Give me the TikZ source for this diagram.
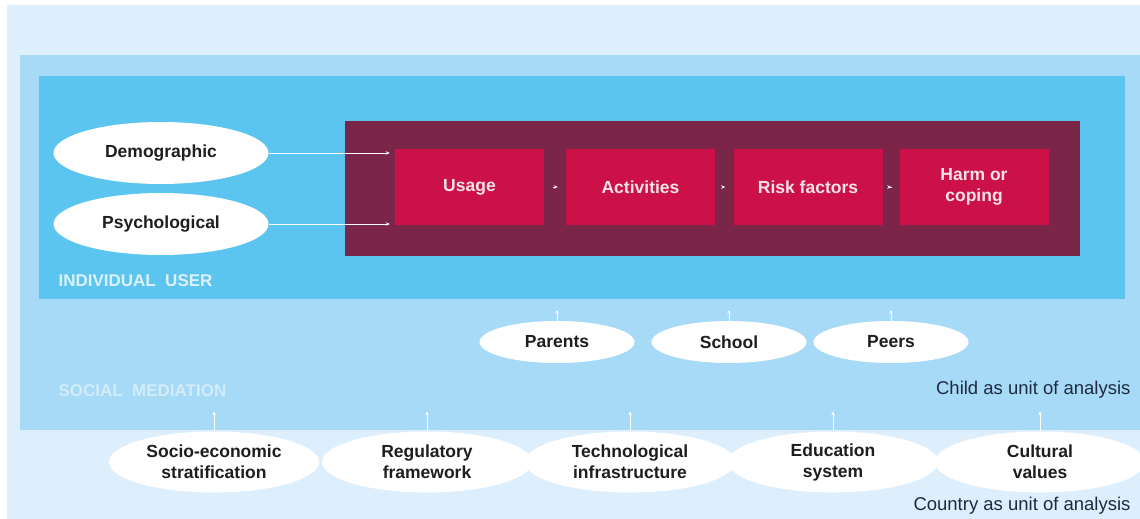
\documentclass[tikz,border=0pt]{standalone}
\usepackage{fontspec}
\setmainfont{Liberation Sans}
\usetikzlibrary{shapes.geometric,arrows.meta}
\definecolor{lightbg}{HTML}{DDEFFC}
\definecolor{medblue}{HTML}{A6DAF6}
\definecolor{brightblue}{HTML}{5BC5F0}
\definecolor{maroon}{HTML}{7B2548}
\definecolor{redbox}{HTML}{CC1149}
\definecolor{boxtext}{HTML}{F6E3EA}
\definecolor{darktext}{HTML}{1E1E1E}
\definecolor{unittext}{HTML}{1F2A40}
\definecolor{lbl}{HTML}{DDF1FB}
\definecolor{lbl2}{HTML}{D2ECFA}
\begin{document}
\begin{tikzpicture}[x=1pt,y=-1pt,
  panel/.style={anchor=north west,inner sep=0,outer sep=0},
  stagebox/.style={fill=redbox,minimum width=149pt,minimum height=76pt,inner sep=0,
    text=boxtext,align=center,font=\fontsize{17.5}{21}\selectfont\bfseries},
  factor/.style={ellipse,fill=white,inner sep=0,text=darktext,align=center,
    font=\fontsize{17.5}{21}\selectfont\bfseries},
  bigfactor/.style={factor,minimum width=215pt,minimum height=62pt},
  midfactor/.style={factor,minimum width=155pt,minimum height=42pt},
  lowfactor/.style={factor,minimum width=210pt,minimum height=61pt},
  arr/.style={draw=white,line width=0.8pt,-{Stealth[length=4pt,width=3.5pt]}},
  caps/.style={anchor=west,text=lbl,font=\fontsize{17}{20}\selectfont\bfseries},
  unit/.style={anchor=east,text=unittext,font=\fontsize{18.5}{22}\selectfont}
]
\useasboundingbox (0,0) rectangle (1140,519);
\fill[white] (0,0) rectangle (1140,519);
\fill[lightbg] (7,5) rectangle (1140,519);
\node[panel,fill=medblue,minimum width=1120pt,minimum height=375pt] (social) at (20,55) {};
\node[panel,fill=brightblue,minimum width=1086pt,minimum height=223pt] (indiv) at (39,76) {};
\node[panel,fill=maroon,minimum width=735pt,minimum height=135pt] (core) at (345,121) {};

\node[stagebox] (usage) at (469.5,187) {Usage};
\node[stagebox] (activities) at (640.5,187) {Activities};
\node[stagebox] (risk) at (808,187) {Risk factors};
\node[stagebox] (harm) at (974,187) {Harm or\\coping};

\foreach \a/\b in {usage/activities,activities/risk,risk/harm}
  \draw[arr,shorten <=9pt,shorten >=8pt] (\a.east) -- (\b.west);

\node[bigfactor] (demo) at (161,153) {Demographic};
\node[bigfactor] (psych) at (161,224) {Psychological};
\draw[arr,shorten >=5pt] (demo.east) -- (demo.east -| usage.west);
\draw[arr,shorten >=5pt] (psych.east) -- (psych.east -| usage.west);

\node[caps] (indlbl) at (55,281) {INDIVIDUAL\ \ USER};

\node[midfactor] (parents) at (557,342) {Parents};
\node[midfactor] (school) at (729,342) {School};
\node[midfactor] (peers) at (891,342) {Peers};
\foreach \n in {parents,school,peers}
  \draw[arr,shorten >=11pt] (\n.north) -- (\n.north |- indiv.south);

\node[caps,text=lbl2] (soclbl) at (55,391) {SOCIAL\ \ MEDIATION};
\node[unit] (child) at (1134,390) {Child as unit of analysis};

\node[lowfactor] (socio) at (214,462) {Socio-economic\\stratification};
\node[lowfactor] (reg) at (427,462) {Regulatory\\framework};
\node[lowfactor] (tech) at (630,462) {Technological\\infrastructure};
\node[lowfactor] (edu) at (833,462) {Education\\system};
\node[lowfactor] (cult) at (1040,462) {Cultural\\values};
\foreach \n in {socio,reg,tech,edu,cult}
  \draw[arr] (\n.north) -- ++(0,-20);

\node[unit] (country) at (1134,506) {Country as unit of analysis};
\end{tikzpicture}
\end{document}
